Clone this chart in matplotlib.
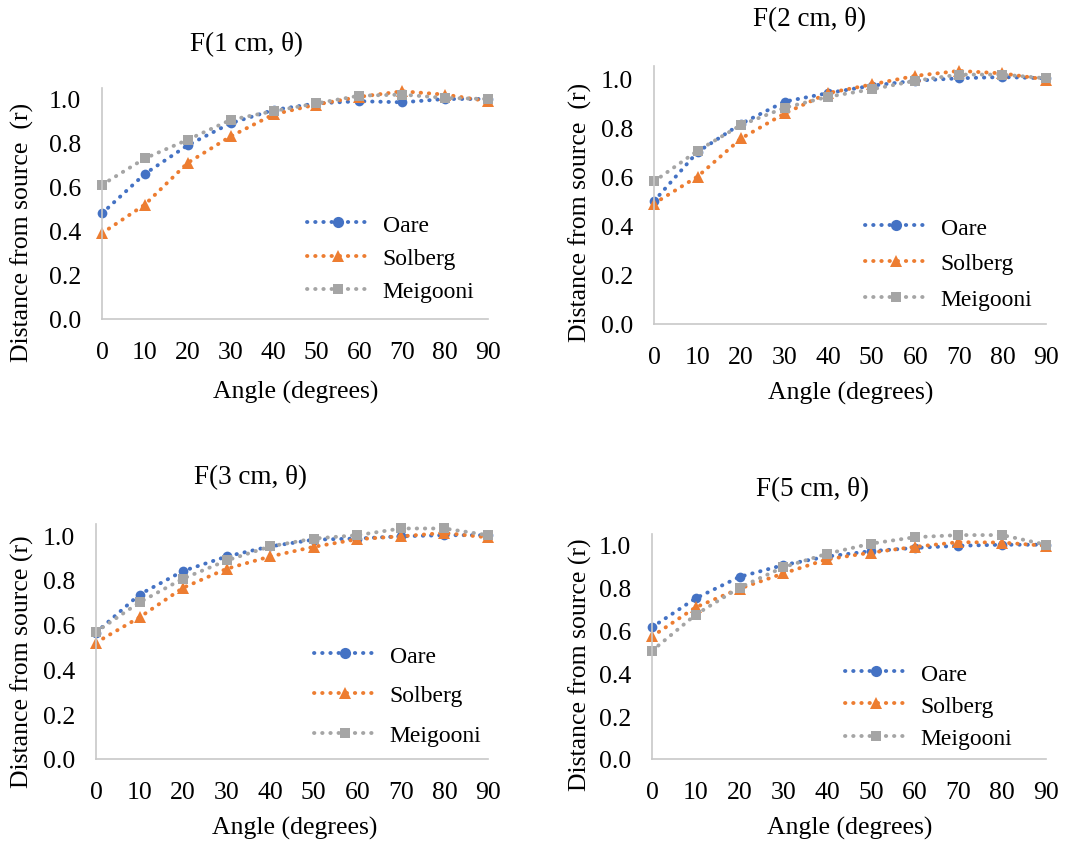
import matplotlib.pyplot as plt

plt.rcParams['font.family'] = ['Liberation Serif', 'DejaVu Serif']

angles = [0, 10, 20, 30, 40, 50, 60, 70, 80, 90]
y_ticks = [0.0, 0.2, 0.4, 0.6, 0.8, 1.0]
series_names = ["Oare", "Solberg", "Meigooni"]

oare_1 = [0.48, 0.66, 0.79, 0.89, 0.95, 0.98, 0.99, 0.985, 1.0, 1.0]
solberg_1 = [0.39, 0.52, 0.71, 0.83, 0.93, 0.975, 1.01, 1.035, 1.02, 0.99]
meigooni_1 = [0.61, 0.73, 0.815, 0.905, 0.945, 0.98, 1.015, 1.02, 1.005, 1.0]

oare_2 = [0.50, 0.70, 0.815, 0.905, 0.94, 0.97, 0.99, 1.0, 1.005, 1.0]
solberg_2 = [0.49, 0.60, 0.755, 0.857, 0.94, 0.975, 1.01, 1.03, 1.02, 0.995]
meigooni_2 = [0.58, 0.705, 0.81, 0.88, 0.925, 0.955, 0.99, 1.015, 1.015, 1.0]

oare_3 = [0.565, 0.735, 0.84, 0.905, 0.95, 0.98, 0.985, 0.995, 1.0, 1.0]
solberg_3 = [0.52, 0.633, 0.765, 0.85, 0.905, 0.948, 0.982, 0.995, 1.01, 0.99]
meigooni_3 = [0.568, 0.70, 0.806, 0.887, 0.95, 0.985, 1.0, 1.03, 1.03, 1.0]

oare_5 = [0.615, 0.75, 0.85, 0.905, 0.945, 0.97, 0.985, 0.995, 1.0, 1.0]
solberg_5 = [0.572, 0.708, 0.795, 0.866, 0.932, 0.963, 0.99, 1.012, 1.01, 0.995]
meigooni_5 = [0.505, 0.674, 0.80, 0.895, 0.958, 1.005, 1.035, 1.045, 1.045, 1.0]

titles = ["F(1 cm, θ)", "F(2 cm, θ)", "F(3 cm, θ)", "F(5 cm, θ)"]
ylabels = ["Distance from source  (r)", "Distance from source  (r)",
           "Distance from source (r)", "Distance from source (r)"]
panel_data = [
    (oare_1, solberg_1, meigooni_1),
    (oare_2, solberg_2, meigooni_2),
    (oare_3, solberg_3, meigooni_3),
    (oare_5, solberg_5, meigooni_5),
]

colors = ["#4472C4", "#ED7D31", "#A5A5A5"]
markers = ["o", "^", "s"]
msizes = [7, 8, 6.5]

W, H = 1065, 845
fig = plt.figure(figsize=(W / 100, H / 100), dpi=100)


def box(left, right, top, bottom):
    return [left / W, 1 - bottom / H, (right - left) / W, (bottom - top) / H]


# plot areas in pixels: left, right, top, bottom
areas = [(102, 488, 89, 320), (654, 1046, 67, 325),
         (96, 488, 525, 760), (652, 1046, 535, 760)]
title_pos = [(246, 45), (810, 20), (251, 478), (813, 490)]
ylabel_pos = [(22, 232), (580, 212), (22, 662), (580, 665)]
xlabel_pos = [(296, 392), (851, 393), (295, 828), (850, 828)]
legend_anchor = [(307, 215), (865, 218), (314, 646), (845, 664)]
legend_spacing = [0.5, 0.6, 0.78, 0.45]

for i, (oare, solberg, meig) in enumerate(panel_data):
    ax = fig.add_axes(box(*areas[i]))
    for vals, name, c, m, ms in zip((oare, solberg, meig), series_names,
                                    colors, markers, msizes):
        ax.plot(angles, vals, color=c, lw=2.8, linestyle=(0, (0.1, 2.0)),
                dash_capstyle="round", marker=m, markersize=ms,
                markeredgewidth=0, label=name, clip_on=False)
    ax.set_xlim(0, 90)
    ax.set_ylim(0, 1.05)
    ax.set_xticks(angles)
    ax.set_yticks(y_ticks)
    ax.set_yticklabels([f"{t:.1f}" for t in y_ticks])
    ax.tick_params(length=0, labelsize=18.5)
    ax.tick_params(axis="y", pad=15)
    ax.tick_params(axis="x", pad=16)
    for side in ["top", "right"]:
        ax.spines[side].set_visible(False)
    for side in ["left", "bottom"]:
        ax.spines[side].set_color("#c8c8c8")
        ax.spines[side].set_linewidth(1.2)

    lx, ly = legend_anchor[i]
    ax.legend(loc="upper left", bbox_to_anchor=(lx / W, 1 - ly / H),
              bbox_transform=fig.transFigure, frameon=False, fontsize=17,
              handlelength=2.6, handletextpad=0.6,
              labelspacing=legend_spacing[i], markerscale=1.15,
              borderpad=0, borderaxespad=0)

    tx, ty = title_pos[i]
    fig.text(tx / W, 1 - ty / H, titles[i], fontsize=19.5,
             ha="center", va="center")
    yx, yy = ylabel_pos[i]
    fig.text(yx / W, 1 - yy / H, ylabels[i], fontsize=18.5, rotation=90,
             ha="center", va="center")
    xx, xy = xlabel_pos[i]
    fig.text(xx / W, 1 - xy / H, "Angle (degrees)", fontsize=18.5,
             ha="center", va="center")

fig.savefig("out.png", dpi=100)
